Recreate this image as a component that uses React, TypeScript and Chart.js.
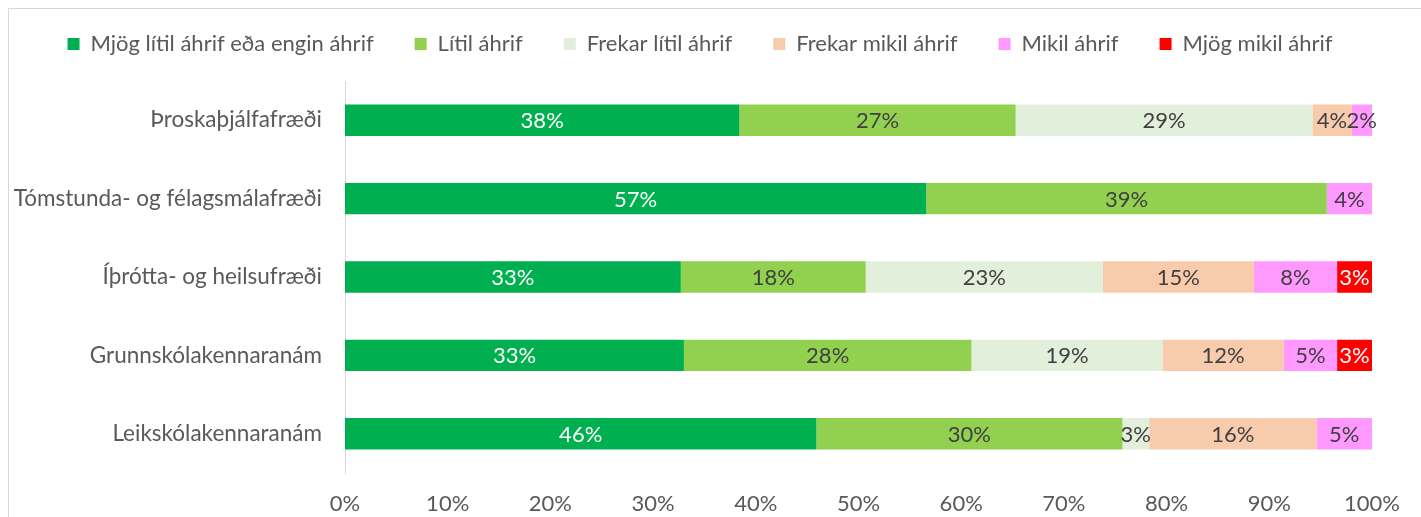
import React, { useEffect, useRef } from "react";
import { Chart, registerables } from "chart.js";

Chart.register(...registerables);

const categories = [
  "Þroskaþjálfafræði",
  "Tómstunda- og félagsmálafræði",
  "Íþrótta- og heilsufræði",
  "Grunnskólakennaranám",
  "Leikskólakennaranám",
];

const seriesNames = [
  "Mjög lítil áhrif eða engin áhrif",
  "Lítil áhrif",
  "Frekar lítil áhrif",
  "Frekar mikil áhrif",
  "Mikil áhrif",
  "Mjög mikil áhrif",
];

const mjogLitil = [38.4, 56.6, 32.7, 33.0, 45.9];
const litil = [26.9, 39.0, 18.0, 28.0, 29.8];
const frekarLitil = [28.9, 0, 23.1, 18.6, 2.6];
const frekarMikil = [3.8, 0, 14.7, 11.8, 16.3];
const mikil = [2.0, 4.4, 8.1, 5.2, 5.4];
const mjogMikil = [0, 0, 3.4, 3.4, 0];

const seriesValues = [mjogLitil, litil, frekarLitil, frekarMikil, mikil, mjogMikil];
const seriesColors = ["#00B050", "#92D050", "#E2EFDA", "#F8CBAD", "#FF99FF", "#FF0000"];
const labelColors = ["#FFFFFF", "#404040", "#404040", "#404040", "#404040", "#FFFFFF"];

const xTickValues = [0, 10, 20, 30, 40, 50, 60, 70, 80, 90, 100];

const FONT = "Lato, 'Open Sans', sans-serif";
const FONT_SIZE = 22;
const AXIS_FONT_SIZE = 22.5;

const barLabelPlugin = {
  id: "barLabels",
  beforeLayout(chart: any) {
    const lg = chart.legend;
    if (lg && !lg.__patched) {
      const origFit = lg.fit.bind(lg);
      lg.fit = function () {
        origFit();
        this.height = 89;
      };
      const origDraw = lg.draw.bind(lg);
      lg.draw = function (...args: any[]) {
        const c = this.ctx;
        c.save();
        c.translate(14, 0);
        origDraw(...args);
        c.restore();
      };
      lg.__patched = true;
    }
  },
  afterDatasetsDraw(chart: any) {
    const ctx = chart.ctx;
    ctx.save();
    ctx.font = `${FONT_SIZE}px ${FONT}`;
    ctx.textAlign = "center";
    ctx.textBaseline = "middle";
    chart.data.datasets.forEach((ds: any, di: number) => {
      const meta = chart.getDatasetMeta(di);
      meta.data.forEach((el: any, i: number) => {
        const v = ds.data[i];
        if (!v) return;
        const p = el.getProps(["x", "y", "base"], true);
        const cx = (p.x + p.base) / 2;
        ctx.fillStyle = labelColors[di];
        ctx.fillText(Math.round(v) + "%", cx, p.y + 1);
      });
    });
    ctx.restore();
  },
};

export default function App() {
  const ref = useRef<HTMLCanvasElement>(null);

  useEffect(() => {
    if (!ref.current) return;
    const chart = new Chart(ref.current, {
      type: "bar",
      data: {
        labels: categories,
        datasets: seriesValues.map((vals, i) => ({
          label: seriesNames[i],
          data: vals,
          backgroundColor: seriesColors[i],
          borderWidth: 0,
          barPercentage: 1,
          categoryPercentage: 0.4,
        })),
      },
      options: {
        indexAxis: "y",
        responsive: false,
        animation: false,
        devicePixelRatio: 1,
        layout: { padding: { top: -8, right: 49, left: 0, bottom: 0 } },
        plugins: {
          legend: {
            position: "top",
            labels: {
              boxWidth: 12,
              boxHeight: 12,
              padding: 41,
              color: "#595959",
              font: { size: FONT_SIZE, family: FONT },
            },
          },
          tooltip: { enabled: false },
        },
        scales: {
          x: {
            stacked: true,
            min: 0,
            max: 100,
            afterBuildTicks: (scale: any) => {
              scale.ticks = xTickValues.map((v) => ({ value: v }));
            },
            ticks: {
              callback: (v: any) => v + "%",
              color: "#595959",
              font: { size: FONT_SIZE, family: FONT },
              padding: 18,
              maxRotation: 0,
            },
            grid: { display: false, drawTicks: false },
            border: { display: false },
            afterFit: (scale: any) => {
              scale.height = 44;
            },
          },
          y: {
            stacked: true,
            ticks: {
              color: "#595959",
              font: { size: AXIS_FONT_SIZE, family: FONT },
              padding: 23,
            },
            grid: { color: "transparent", drawTicks: false },
            border: { display: true, color: "#D9D9D9", width: 1 },
            afterFit: (scale: any) => {
              scale.width = 345;
            },
          },
        },
      },
      plugins: [barLabelPlugin],
    });
    return () => chart.destroy();
  }, []);

  return (
    <div
      style={{
        position: "fixed",
        left: 0,
        top: 0,
        width: 1421,
        height: 517,
        overflow: "hidden",
        background: "#FFFFFF",
      }}
    >
      <div
        style={{
          position: "absolute",
          left: 8,
          top: 8,
          width: 1600,
          height: 700,
          border: "1px solid #D9D9D9",
          boxSizing: "border-box",
        }}
      />
      <canvas
        ref={ref}
        width={1421}
        height={517}
        style={{ position: "absolute", left: 0, top: 0, width: 1421, height: 517 }}
      />
    </div>
  );
}
